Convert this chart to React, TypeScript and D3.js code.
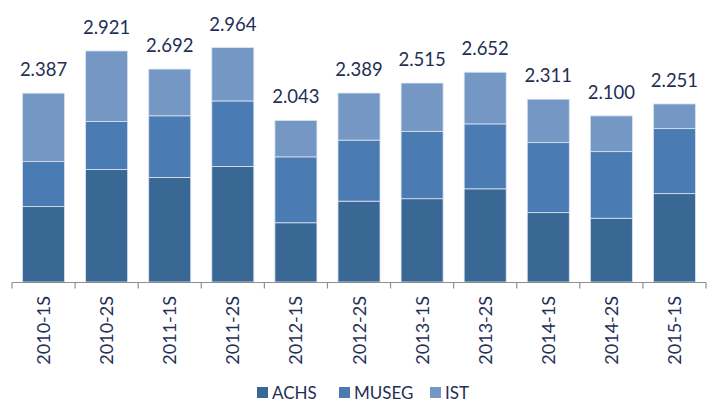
import React from "react";
import * as d3 from "d3";

const categories = ["2010-1S","2010-2S","2011-1S","2011-2S","2012-1S","2012-2S","2013-1S","2013-2S","2014-1S","2014-2S","2015-1S"];
const achs = [953, 1423, 1322, 1461, 749, 1022, 1053, 1178, 877, 806, 1117];
const museg = [569, 606, 779, 828, 833, 772, 852, 821, 885, 842, 822];
const ist = [865, 892, 591, 675, 461, 595, 610, 653, 549, 452, 312];
const seriesNames = ["ACHS", "MUSEG", "IST"];
const seriesColors = ["#3a6895", "#4a7bb3", "#7597c4"];

const W = 707, H = 403;
const FONT = "Lato, 'Open Sans', sans-serif";
const TEXT = "#1f2f55";

export default function App() {
  const rows = categories.map((c, i) => ({ cat: c, ACHS: achs[i], MUSEG: museg[i], IST: ist[i] }));
  const stack = d3.stack<any>().keys(seriesNames)(rows);
  const x = d3.scaleBand().domain(categories).range([12, 706]).paddingInner(0.334).paddingOuter(0.167);
  const y = d3.scaleLinear().domain([0, 3000]).range([282, 282 - 0.0791 * 3000]);
  const fmt = d3.formatLocale({ decimal: ",", thousands: ".", grouping: [3], currency: ["$", ""] }).format(",d");
  const step = x.step();
  const ticks = d3.range(categories.length + 1).map(i => 12 + i * step);

  const legendX = [257, 339, 430];

  return (
    <svg width={W} height={H} style={{ position: "fixed", left: 0, top: 0, background: "#fff" }}>
      {stack.map((s, si) => (
        <g key={s.key} fill={seriesColors[si]}>
          {s.map((d, i) => (
            <rect key={i} x={x(categories[i])!} width={x.bandwidth()}
              y={y(d[1])} height={y(d[0]) - y(d[1])}
              stroke="#dbe4f0" strokeWidth={0.8} />
          ))}
        </g>
      ))}
      {rows.map((r, i) => {
        const total = r.ACHS + r.MUSEG + r.IST;
        return (
          <text key={r.cat} x={x(r.cat)! + x.bandwidth() / 2} y={y(total) - 17}
            textAnchor="middle" fontFamily={FONT} fontSize={18.5} fill={TEXT}>{fmt(total)}</text>
        );
      })}
      <line x1={12} x2={706} y1={282.5} y2={282.5} stroke="#8f8f8f" strokeWidth={1.2} />
      {ticks.map((t, i) => (
        <line key={i} x1={t} x2={t} y1={282.5} y2={288.5} stroke="#8f8f8f" strokeWidth={1.2} />
      ))}
      {categories.map(c => {
        const cx = x(c)! + x.bandwidth() / 2;
        return (
          <text key={c} transform={`translate(${cx + 6.5},296) rotate(-90)`} textAnchor="end"
            fontFamily={FONT} fontSize={18} fill={TEXT}>{c}</text>
        );
      })}
      {seriesNames.map((n, i) => (
        <g key={n} transform={`translate(${legendX[i]},387)`}>
          <rect x={0} y={0} width={11} height={11} fill={seriesColors[i]} />
          <text x={15} y={11.5} fontFamily={FONT} fontSize={17} fill={TEXT}>{n}</text>
        </g>
      ))}
    </svg>
  );
}
